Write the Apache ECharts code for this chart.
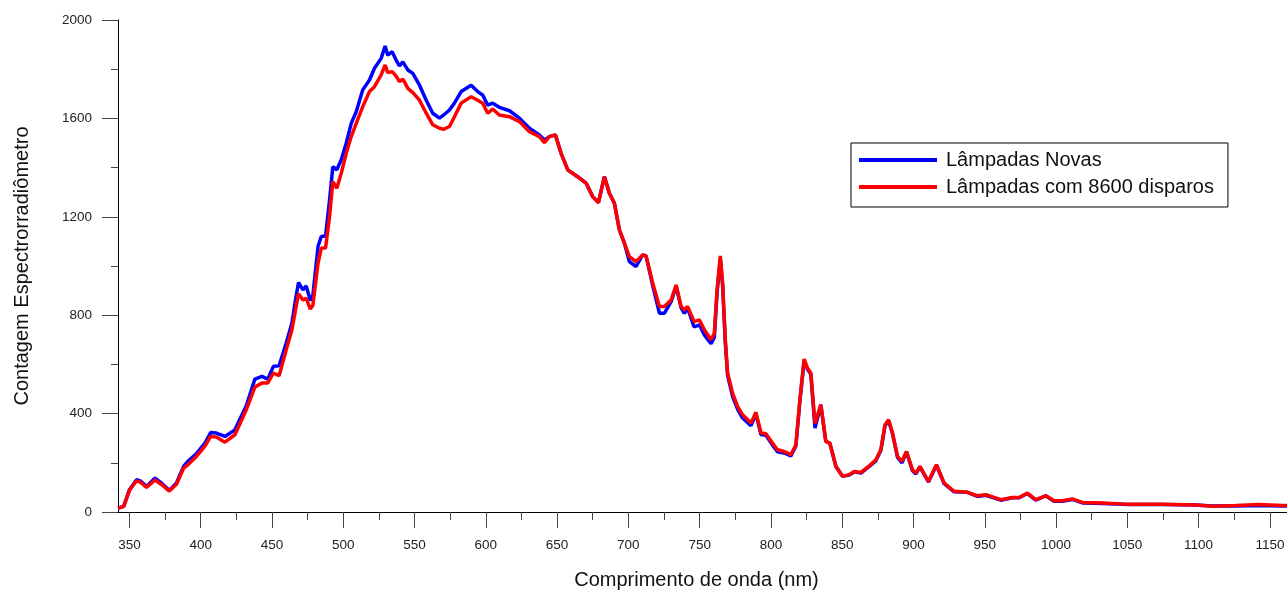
<!DOCTYPE html>
<html>
<head>
<meta charset="utf-8">
<script src="https://cdn.jsdelivr.net/npm/echarts@6/dist/echarts.min.js"></script>
<style>html,body{margin:0;padding:0;background:#fff}#c{width:1287px;height:590px}</style>
</head>
<body>
<div id="c"></div>
<script>
const wavelengths = [342,346,350,355,358,362,368,373,378,383,388,391,397,403,407,411,417,424,432,438,443,447,451,455,460,464,466.5,468.6,471.7,474,476.9,478.7,482.3,484.6,487.6,490.4,492.7,495.5,498.6,502.1,505.6,509.1,513.7,518.4,521.9,526.6,529.4,531.2,534.3,537.1,539.4,541.8,545.3,548.8,553.5,558.2,562.8,567.5,570.5,574.5,578,582.7,589.7,594.3,597.8,601.3,604.8,609.5,616.6,623.6,630.6,637.6,641.1,644.6,648.8,652.8,657.5,664.4,670.3,675,679,683.2,686.7,690.2,693.7,697.2,700.7,705.4,710,712.4,717.1,721.8,725.3,730,733.5,737,739.3,741.6,746.1,749.8,753.3,758,760.3,762.2,764.5,766.1,768,769.6,773.1,776.6,780.1,786,789.5,793,796.5,801.1,804.6,809.3,814,817.5,820.3,823.3,825.6,828,830.9,835,838.5,841.3,845.6,850.2,854.9,858.4,863.1,869,873.6,877.1,880,882.5,885.3,888.8,891.9,895.1,899.3,901.7,904.5,910.5,916.1,921.5,928.5,937.8,944.8,950.7,961.2,969.4,974.1,979.9,985.8,992.8,998.6,1004.4,1011.4,1018.5,1032.5,1051.2,1074.6,1098,1109.6,1126,1142.3,1158.6,1162];
const novas = [16,23,90,131,125,104,138,115,88,118,185,206,237,280,323,321,307,334,432,540,551,540,592,594,687,768,862,933,903,919,860,880,1079,1120,1122,1269,1404,1391,1432,1499,1580,1627,1716,1756,1804,1844,1894,1857,1871,1837,1813,1830,1797,1783,1735,1674,1621,1601,1614,1634,1662,1709,1735,1709,1695,1654,1662,1645,1631,1601,1560,1533,1512,1526,1533,1458,1391,1363,1337,1282,1258,1363,1296,1255,1147,1093,1018,998,1045,1041,920,808,808,855,918,830,808,829,752,761,720,684,710,890,1030,920,690,555,470,418,382,351,398,315,312,272,245,240,228,268,450,615,580,560,341,436,287,280,185,145,150,163,158,185,208,250,350,372,318,222,200,244,168,155,183,122,190,115,82,80,63,68,48,58,58,75,48,66,44,44,51,37,35,30,30,28,24,24,26,24,24];
const disparos = [16,23,88,127,120,100,130,110,85,113,178,192,226,268,307,305,284,314,416,508,524,524,565,554,659,741,820,887,862,869,825,840,1011,1073,1073,1201,1343,1316,1377,1458,1526,1580,1648,1709,1729,1777,1817,1786,1790,1772,1749,1760,1722,1705,1674,1621,1574,1560,1556,1567,1607,1662,1688,1674,1662,1621,1638,1614,1607,1587,1546,1526,1501,1526,1533,1458,1391,1363,1337,1282,1258,1363,1296,1255,1147,1093,1038,1018,1045,1041,930,835,835,862,923,835,822,835,774,781,741,700,727,903,1041,930,700,565,483,429,395,362,405,321,318,280,253,246,233,273,456,622,585,565,360,436,287,280,185,145,152,165,161,188,212,253,355,375,321,226,206,246,172,158,185,124,192,118,84,80,66,70,50,59,59,77,50,66,46,46,53,39,37,31,31,28,23,26,30,26,26];
const seriesNames = ['Lâmpadas Novas', 'Lâmpadas com 8600 disparos'];
const xMajorTicks = [350,400,450,500,550,600,650,700,750,800,850,900,950,1000,1050,1100,1150];
const xMinorTicks = [375,425,475,525,575,625,675,725,775,825,875,925,975,1025,1075,1125];

const FONT = '"Liberation Sans", Arial, sans-serif';
const chart = echarts.init(document.getElementById('c'), null, {renderer: 'canvas'});
const pair = (ys) => wavelengths.map((x, i) => [x, ys[i]]);
const plain = (v) => String(v);
chart.setOption({
  animation: false,
  backgroundColor: '#fff',
  textStyle: {fontFamily: FONT},
  grid: {left: 118, right: 0, top: 20, bottom: 78, containLabel: false, outerBoundsMode: 'none'},
  legend: {
    data: seriesNames,
    orient: 'vertical',
    left: 851, top: 143,
    borderColor: '#000', borderWidth: 1,
    padding: [7, 14, 10, 8],
    itemGap: 7,
    itemWidth: 78, itemHeight: 4,
    icon: 'rect',
    textStyle: {fontFamily: FONT, fontSize: 20, color: '#111', lineHeight: 20, padding: [0, 0, 0, 4]}
  },
  xAxis: [{
    type: 'value', min: 342, max: 1162,
    name: 'Comprimento de onda (nm)', nameLocation: 'middle', nameGap: 58,
    nameTextStyle: {fontFamily: FONT, fontSize: 20, color: '#111', padding: [0, 12, 0, 0]},
    axisLine: {show: true, lineStyle: {color: '#000', width: 1}},
    axisTick: {show: true, length: 16, customValues: xMajorTicks, lineStyle: {color: '#444'}},
    axisLabel: {customValues: xMajorTicks, formatter: plain, fontFamily: FONT, fontSize: 13.5, color: '#222', margin: 26},
    splitLine: {show: false}
  }, {
    type: 'value', min: 342, max: 1162, position: 'bottom',
    axisLine: {show: false},
    axisTick: {show: true, length: 8, customValues: xMinorTicks, lineStyle: {color: '#444'}},
    axisLabel: {show: false},
    splitLine: {show: false}
  }],
  yAxis: {
    type: 'value', min: 0, max: 2000, interval: 400,
    name: 'Contagem Espectrorradiômetro', nameLocation: 'middle', nameGap: 86, nameRotate: 90,
    nameTextStyle: {fontFamily: FONT, fontSize: 20, color: '#111'},
    axisLine: {show: true, lineStyle: {color: '#000', width: 1}},
    axisTick: {show: true, length: 16, lineStyle: {color: '#444'}},
    minorTick: {show: true, splitNumber: 2, length: 7, lineStyle: {color: '#444'}},
    axisLabel: {formatter: plain, fontFamily: FONT, fontSize: 13.5, color: '#222', margin: 26},
    splitLine: {show: false}
  },
  series: [{
    name: seriesNames[0], type: 'line', data: pair(novas), showSymbol: false, symbol: 'none',
    lineStyle: {color: '#0000ff', width: 3.5}, itemStyle: {color: '#0000ff'}
  }, {
    name: seriesNames[1], type: 'line', data: pair(disparos), showSymbol: false, symbol: 'none',
    lineStyle: {color: '#ff0000', width: 3.5}, itemStyle: {color: '#ff0000'}
  }]
});
</script>
</body>
</html>
